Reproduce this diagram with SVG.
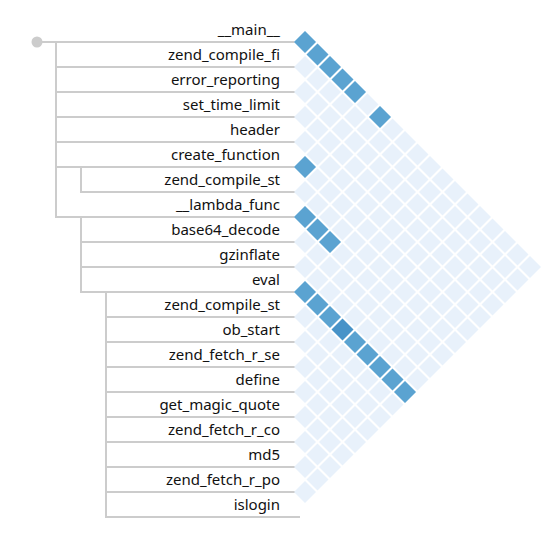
<svg xmlns="http://www.w3.org/2000/svg" xmlns:xlink="http://www.w3.org/1999/xlink" width="555" height="541" viewBox="0 0 555 541">
<style>
.lbl{font-family:"Noto Sans","Open Sans","DejaVu Sans",sans-serif;font-size:15px;fill:#111;text-anchor:end}
.tree line{stroke:#cccccc;stroke-width:2}
</style>
<defs>
<rect id="c" x="-0.44" y="-0.44" width="0.88" height="0.88"/>
</defs>
<rect width="555" height="541" fill="#ffffff"/>
<g id="connectors" class="tree">
<line x1="37" y1="42" x2="300" y2="42"/>
<line x1="56" y1="42" x2="56" y2="218"/>
<line x1="56" y1="67" x2="300" y2="67"/>
<line x1="56" y1="92" x2="300" y2="92"/>
<line x1="56" y1="117" x2="300" y2="117"/>
<line x1="56" y1="142" x2="300" y2="142"/>
<line x1="56" y1="167" x2="300" y2="167"/>
<line x1="81" y1="167" x2="81" y2="193"/>
<line x1="81" y1="192" x2="300" y2="192"/>
<line x1="56" y1="217" x2="300" y2="217"/>
<line x1="81" y1="217" x2="81" y2="293"/>
<line x1="81" y1="242" x2="300" y2="242"/>
<line x1="81" y1="267" x2="300" y2="267"/>
<line x1="81" y1="292" x2="300" y2="292"/>
<line x1="106" y1="292" x2="106" y2="518"/>
<line x1="106" y1="317" x2="300" y2="317"/>
<line x1="106" y1="342" x2="300" y2="342"/>
<line x1="106" y1="367" x2="300" y2="367"/>
<line x1="106" y1="392" x2="300" y2="392"/>
<line x1="106" y1="417" x2="300" y2="417"/>
<line x1="106" y1="442" x2="300" y2="442"/>
<line x1="106" y1="467" x2="300" y2="467"/>
<line x1="106" y1="492" x2="300" y2="492"/>
<line x1="106" y1="517" x2="300" y2="517"/>
</g>
<circle id="root" cx="37" cy="42" r="5.5" fill="#cccccc"/>
<g id="nodes">
<g id="n0"><text class="lbl" x="280" y="35">__main__</text></g>
<g id="n1"><text class="lbl" x="280" y="60">zend_compile_fi</text></g>
<g id="n2"><text class="lbl" x="280" y="85">error_reporting</text></g>
<g id="n3"><text class="lbl" x="280" y="110">set_time_limit</text></g>
<g id="n4"><text class="lbl" x="280" y="135">header</text></g>
<g id="n5"><text class="lbl" x="280" y="160">create_function</text></g>
<g id="n6"><text class="lbl" x="280" y="185">zend_compile_st</text></g>
<g id="n7"><text class="lbl" x="280" y="210">__lambda_func</text></g>
<g id="n8"><text class="lbl" x="280" y="235">base64_decode</text></g>
<g id="n9"><text class="lbl" x="280" y="260">gzinflate</text></g>
<g id="n10"><text class="lbl" x="280" y="285">eval</text></g>
<g id="n11"><text class="lbl" x="280" y="310">zend_compile_st</text></g>
<g id="n12"><text class="lbl" x="280" y="335">ob_start</text></g>
<g id="n13"><text class="lbl" x="280" y="360">zend_fetch_r_se</text></g>
<g id="n14"><text class="lbl" x="280" y="385">define</text></g>
<g id="n15"><text class="lbl" x="280" y="410">get_magic_quote</text></g>
<g id="n16"><text class="lbl" x="280" y="435">zend_fetch_r_co</text></g>
<g id="n17"><text class="lbl" x="280" y="460">md5</text></g>
<g id="n18"><text class="lbl" x="280" y="485">zend_fetch_r_po</text></g>
<g id="n19"><text class="lbl" x="280" y="510">islogin</text></g>
</g>
<g id="matrix" transform="translate(305,42) rotate(45) scale(17.6777)">
<g id="light" fill="#e8f1fb">
<use href="#c" x="0" y="0"/><use href="#c" x="1" y="0"/><use href="#c" x="2" y="0"/><use href="#c" x="3" y="0"/><use href="#c" x="4" y="0"/><use href="#c" x="5" y="0"/><use href="#c" x="6" y="0"/><use href="#c" x="7" y="0"/><use href="#c" x="8" y="0"/><use href="#c" x="9" y="0"/><use href="#c" x="10" y="0"/><use href="#c" x="11" y="0"/><use href="#c" x="12" y="0"/><use href="#c" x="13" y="0"/><use href="#c" x="14" y="0"/><use href="#c" x="15" y="0"/><use href="#c" x="16" y="0"/><use href="#c" x="17" y="0"/><use href="#c" x="18" y="0"/>
<use href="#c" x="1" y="1"/><use href="#c" x="2" y="1"/><use href="#c" x="3" y="1"/><use href="#c" x="4" y="1"/><use href="#c" x="5" y="1"/><use href="#c" x="6" y="1"/><use href="#c" x="7" y="1"/><use href="#c" x="8" y="1"/><use href="#c" x="9" y="1"/><use href="#c" x="10" y="1"/><use href="#c" x="11" y="1"/><use href="#c" x="12" y="1"/><use href="#c" x="13" y="1"/><use href="#c" x="14" y="1"/><use href="#c" x="15" y="1"/><use href="#c" x="16" y="1"/><use href="#c" x="17" y="1"/><use href="#c" x="18" y="1"/>
<use href="#c" x="2" y="2"/><use href="#c" x="3" y="2"/><use href="#c" x="4" y="2"/><use href="#c" x="5" y="2"/><use href="#c" x="6" y="2"/><use href="#c" x="7" y="2"/><use href="#c" x="8" y="2"/><use href="#c" x="9" y="2"/><use href="#c" x="10" y="2"/><use href="#c" x="11" y="2"/><use href="#c" x="12" y="2"/><use href="#c" x="13" y="2"/><use href="#c" x="14" y="2"/><use href="#c" x="15" y="2"/><use href="#c" x="16" y="2"/><use href="#c" x="17" y="2"/><use href="#c" x="18" y="2"/>
<use href="#c" x="3" y="3"/><use href="#c" x="4" y="3"/><use href="#c" x="5" y="3"/><use href="#c" x="6" y="3"/><use href="#c" x="7" y="3"/><use href="#c" x="8" y="3"/><use href="#c" x="9" y="3"/><use href="#c" x="10" y="3"/><use href="#c" x="11" y="3"/><use href="#c" x="12" y="3"/><use href="#c" x="13" y="3"/><use href="#c" x="14" y="3"/><use href="#c" x="15" y="3"/><use href="#c" x="16" y="3"/><use href="#c" x="17" y="3"/><use href="#c" x="18" y="3"/>
<use href="#c" x="4" y="4"/><use href="#c" x="5" y="4"/><use href="#c" x="6" y="4"/><use href="#c" x="7" y="4"/><use href="#c" x="8" y="4"/><use href="#c" x="9" y="4"/><use href="#c" x="10" y="4"/><use href="#c" x="11" y="4"/><use href="#c" x="12" y="4"/><use href="#c" x="13" y="4"/><use href="#c" x="14" y="4"/><use href="#c" x="15" y="4"/><use href="#c" x="16" y="4"/><use href="#c" x="17" y="4"/><use href="#c" x="18" y="4"/>
<use href="#c" x="5" y="5"/><use href="#c" x="6" y="5"/><use href="#c" x="7" y="5"/><use href="#c" x="8" y="5"/><use href="#c" x="9" y="5"/><use href="#c" x="10" y="5"/><use href="#c" x="11" y="5"/><use href="#c" x="12" y="5"/><use href="#c" x="13" y="5"/><use href="#c" x="14" y="5"/><use href="#c" x="15" y="5"/><use href="#c" x="16" y="5"/><use href="#c" x="17" y="5"/><use href="#c" x="18" y="5"/>
<use href="#c" x="6" y="6"/><use href="#c" x="7" y="6"/><use href="#c" x="8" y="6"/><use href="#c" x="9" y="6"/><use href="#c" x="10" y="6"/><use href="#c" x="11" y="6"/><use href="#c" x="12" y="6"/><use href="#c" x="13" y="6"/><use href="#c" x="14" y="6"/><use href="#c" x="15" y="6"/><use href="#c" x="16" y="6"/><use href="#c" x="17" y="6"/><use href="#c" x="18" y="6"/>
<use href="#c" x="7" y="7"/><use href="#c" x="8" y="7"/><use href="#c" x="9" y="7"/><use href="#c" x="10" y="7"/><use href="#c" x="11" y="7"/><use href="#c" x="12" y="7"/><use href="#c" x="13" y="7"/><use href="#c" x="14" y="7"/><use href="#c" x="15" y="7"/><use href="#c" x="16" y="7"/><use href="#c" x="17" y="7"/><use href="#c" x="18" y="7"/>
<use href="#c" x="8" y="8"/><use href="#c" x="9" y="8"/><use href="#c" x="10" y="8"/><use href="#c" x="11" y="8"/><use href="#c" x="12" y="8"/><use href="#c" x="13" y="8"/><use href="#c" x="14" y="8"/><use href="#c" x="15" y="8"/><use href="#c" x="16" y="8"/><use href="#c" x="17" y="8"/><use href="#c" x="18" y="8"/>
<use href="#c" x="9" y="9"/><use href="#c" x="10" y="9"/><use href="#c" x="11" y="9"/><use href="#c" x="12" y="9"/><use href="#c" x="13" y="9"/><use href="#c" x="14" y="9"/><use href="#c" x="15" y="9"/><use href="#c" x="16" y="9"/><use href="#c" x="17" y="9"/><use href="#c" x="18" y="9"/>
<use href="#c" x="10" y="10"/><use href="#c" x="11" y="10"/><use href="#c" x="12" y="10"/><use href="#c" x="13" y="10"/><use href="#c" x="14" y="10"/><use href="#c" x="15" y="10"/><use href="#c" x="16" y="10"/><use href="#c" x="17" y="10"/><use href="#c" x="18" y="10"/>
<use href="#c" x="11" y="11"/><use href="#c" x="12" y="11"/><use href="#c" x="13" y="11"/><use href="#c" x="14" y="11"/><use href="#c" x="15" y="11"/><use href="#c" x="16" y="11"/><use href="#c" x="17" y="11"/><use href="#c" x="18" y="11"/>
<use href="#c" x="12" y="12"/><use href="#c" x="13" y="12"/><use href="#c" x="14" y="12"/><use href="#c" x="15" y="12"/><use href="#c" x="16" y="12"/><use href="#c" x="17" y="12"/><use href="#c" x="18" y="12"/>
<use href="#c" x="13" y="13"/><use href="#c" x="14" y="13"/><use href="#c" x="15" y="13"/><use href="#c" x="16" y="13"/><use href="#c" x="17" y="13"/><use href="#c" x="18" y="13"/>
<use href="#c" x="14" y="14"/><use href="#c" x="15" y="14"/><use href="#c" x="16" y="14"/><use href="#c" x="17" y="14"/><use href="#c" x="18" y="14"/>
<use href="#c" x="15" y="15"/><use href="#c" x="16" y="15"/><use href="#c" x="17" y="15"/><use href="#c" x="18" y="15"/>
<use href="#c" x="16" y="16"/><use href="#c" x="17" y="16"/><use href="#c" x="18" y="16"/>
<use href="#c" x="17" y="17"/><use href="#c" x="18" y="17"/>
<use href="#c" x="18" y="18"/>
</g>
<g id="dark" fill="#5ba3d1">
<use href="#c" x="0" y="0"/><use href="#c" x="1" y="0"/><use href="#c" x="2" y="0"/><use href="#c" x="3" y="0"/><use href="#c" x="4" y="0"/><use href="#c" x="6" y="0"/>
<use href="#c" x="5" y="5"/>
<use href="#c" x="7" y="7"/><use href="#c" x="8" y="7"/><use href="#c" x="9" y="7"/>
<use href="#c" x="10" y="10"/><use href="#c" x="11" y="10"/><use href="#c" x="12" y="10"/><use href="#c" x="14" y="10"/><use href="#c" x="15" y="10"/><use href="#c" x="16" y="10"/><use href="#c" x="17" y="10"/><use href="#c" x="18" y="10"/>
<use href="#c" x="13" y="10" fill="#4893c8"/>
</g>
</g>
</svg>
